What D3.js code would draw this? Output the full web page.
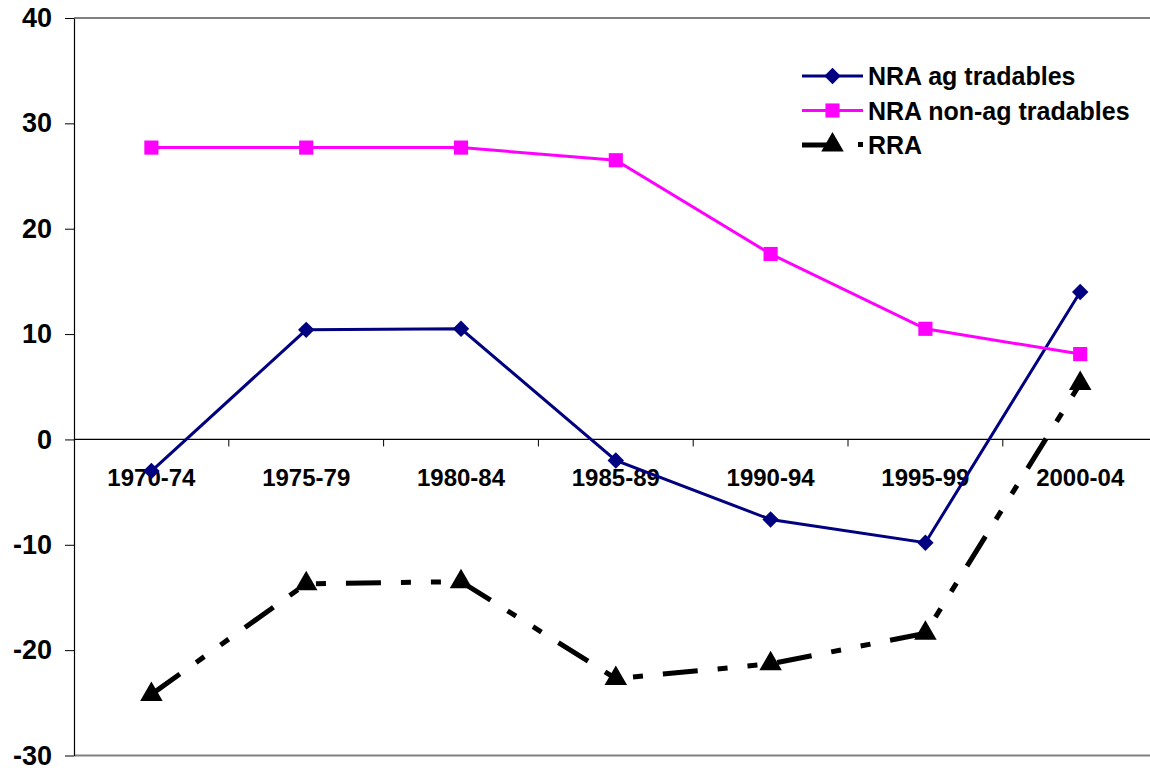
<!DOCTYPE html>
<html>
<head>
<meta charset="utf-8">
<script src="https://cdn.jsdelivr.net/npm/d3@7"></script>
<style>
  body { margin: 0; background: #fff; }
  text { font-family: Arial, "Liberation Sans", sans-serif; font-weight: bold; }
</style>
</head>
<body>
<div id="graph"></div>
<script>
// chart data
const periods = ["1970-74", "1975-79", "1980-84", "1985-89", "1990-94", "1995-99", "2000-04"];
const nraAg = [-3.0, 10.4, 10.5, -2.0, -7.6, -9.8, 14.0];
const nraNonAg = [27.7, 27.7, 27.7, 26.5, 17.6, 10.5, 8.1];
const rra = [-24.2, -13.7, -13.5, -22.7, -21.3, -18.4, 5.3];
const yTicks = [-30, -20, -10, 0, 10, 20, 30, 40];

// diamond = square turned 45 degrees, as in the original
const series = [
  { name: "NRA ag tradables", values: nraAg, color: "#000080", shape: d3.symbolSquare, size: 135, rotate: 45, width: 3, dash: null },
  { name: "NRA non-ag tradables", values: nraNonAg, color: "#ff00ff", shape: d3.symbolSquare, size: 200, rotate: 0, width: 3, dash: null },
  { name: "RRA", values: rra, color: "#000000", shape: d3.symbolTriangle, size: 220, rotate: 0, width: 5, dash: "35,20,10,20,10,20" }
];

var margins = {top: 18, left: 74};
var graphWidth = 154.8 * periods.length;
var graphHeight = 737.5;

var svg = d3.select("#graph")
  .append("svg")
  .attr("width", 1150)
  .attr("height", 771)
  .append("g")
  .attr("transform", "translate(" + margins.left + "," + margins.top + ")");

const x = d3.scaleBand()
  .domain(periods)
  .range([0, graphWidth]);

const y = d3.scaleLinear()
  .domain([-30, 40])
  .range([graphHeight, 0]);

// grey border lines at top and bottom of plot area
svg.append("line")
  .attr("x1", 0).attr("x2", graphWidth)
  .attr("y1", y(40)).attr("y2", y(40))
  .attr("stroke", "#808080").attr("stroke-width", 2);
svg.append("line")
  .attr("x1", 0).attr("x2", graphWidth)
  .attr("y1", y(-30)).attr("y2", y(-30))
  .attr("stroke", "#808080").attr("stroke-width", 2);

// y axis (plain hyphen for negatives, like the original)
var yAxis = svg.append("g")
  .call(d3.axisLeft(y).tickValues(yTicks).tickFormat(d => String(d))
    .tickSize(9).tickSizeOuter(0).tickPadding(13));
yAxis.select(".domain").attr("stroke", "#000").attr("stroke-width", 1.2);
yAxis.selectAll(".tick line").attr("stroke", "#000");
yAxis.selectAll("text")
  .attr("font-size", 27)
  .attr("font-family", "Arial, 'Liberation Sans', sans-serif")
  .attr("font-weight", "bold")
  .attr("fill", "#000");

// x axis sitting at zero, ticks on the band boundaries
var xAxis = svg.append("g")
  .attr("transform", "translate(0," + y(0) + ")");
xAxis.append("line")
  .attr("x1", 0).attr("x2", graphWidth)
  .attr("stroke", "#000").attr("stroke-width", 1.2);
xAxis.selectAll(".xtick")
  .data(periods.slice(1))
  .enter().append("line")
  .attr("x1", d => x(d)).attr("x2", d => x(d))
  .attr("y1", 0).attr("y2", 7)
  .attr("stroke", "#000");
xAxis.selectAll(".xlabel")
  .data(periods)
  .enter().append("text")
  .attr("x", d => x(d) + x.bandwidth() / 2)
  .attr("y", 47)
  .attr("text-anchor", "middle")
  .attr("font-size", 24)
  .text(d => d);

// lines and markers
const line = d3.line()
  .x((v, i) => x(periods[i]) + x.bandwidth() / 2)
  .y(v => y(v));

series.forEach(s => {
  svg.append("path")
    .attr("d", line(s.values))
    .attr("fill", "none")
    .attr("stroke", s.color)
    .attr("stroke-width", s.width)
    .attr("stroke-dasharray", s.dash);

  svg.selectAll(null)
    .data(s.values)
    .enter().append("path")
    .attr("d", d3.symbol().type(s.shape).size(s.size))
    .attr("transform", (v, i) => "translate(" + (x(periods[i]) + x.bandwidth() / 2) + "," + y(v) + ") rotate(" + s.rotate + ")")
    .attr("fill", s.color);
});

// legend
var legend = svg.append("g")
  .attr("transform", "translate(" + (802 - margins.left) + "," + (76 - margins.top) + ")");

series.forEach((s, i) => {
  var row = legend.append("g").attr("transform", "translate(0," + (i * 34.5) + ")");
  if (s.dash) {
    row.append("line")
      .attr("x1", 0).attr("x2", 28)
      .attr("stroke", s.color).attr("stroke-width", 5);
    row.append("rect")
      .attr("x", 56).attr("y", -3).attr("width", 5).attr("height", 5)
      .attr("fill", s.color);
  } else {
    row.append("line")
      .attr("x1", 0).attr("x2", 61)
      .attr("stroke", s.color).attr("stroke-width", 3);
  }
  row.append("path")
    .attr("d", d3.symbol().type(s.shape).size(s.size))
    .attr("transform", "translate(30.5,0) rotate(" + s.rotate + ")")
    .attr("fill", s.color);
  row.append("text")
    .attr("x", 66)
    .attr("y", 9)
    .attr("font-size", 25)
    .text(s.name);
});
</script>
</body>
</html>
